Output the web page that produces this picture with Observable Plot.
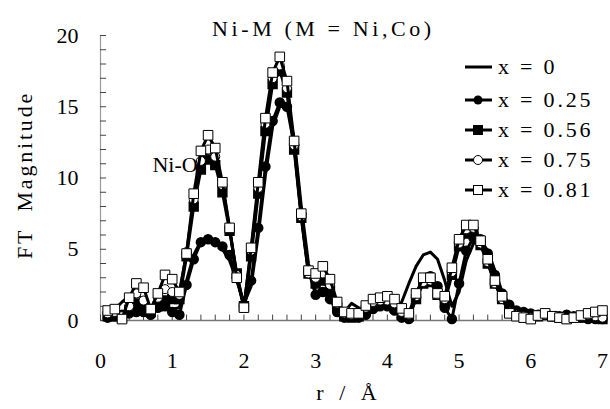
<!DOCTYPE html>
<html><head><meta charset="utf-8">
<script src="https://cdn.jsdelivr.net/npm/d3@7"></script>
<script src="https://cdn.jsdelivr.net/npm/@observablehq/plot@0.6"></script>
<style>
body{margin:0;background:#fff}
#chart{position:relative;width:610px;height:409px;color:#000}
#chart, #chart div, #chart span, #chart svg, #chart text{font-family:'Liberation Serif', serif !important}
.ov{position:absolute;white-space:pre;font-size:22px;line-height:1.2}
.lg{position:absolute;left:465px;display:flex;align-items:center;height:24px}
.lg span{font-size:22px;letter-spacing:2.8px;white-space:pre;margin-left:6px}
</style>
</head><body><div id="chart"></div>
<script>
const r = [0.1,0.2,0.3,0.4,0.5,0.6,0.7,0.8,0.9,1.0,1.1,1.2,1.3,1.4,1.5,1.6,1.7,1.8,1.9,2.0,
2.1,2.2,2.3,2.4,2.5,2.6,2.7,2.8,2.9,3.0,3.1,3.2,3.3,3.4,3.5,3.6,3.7,3.8,3.9,4.0,
4.1,4.2,4.3,4.4,4.5,4.6,4.7,4.8,4.9,5.0,5.1,5.2,5.3,5.4,5.5,5.6,5.7,5.8,5.9,6.0,
6.1,6.2,6.3,6.4,6.5,6.6,6.7,6.8,6.9,7.0];
const v0 = [0.4,0.8,1.3,1.7,1.4,0.8,0.5,0.8,1.0,0.8,0.9,2.8,4.6,5.6,5.8,5.5,5.0,4.2,2.8,1.2,
2.4,6.0,10.2,13.6,15.0,15.1,12.8,8.0,4.0,2.0,2.2,1.8,1.1,0.6,1.2,0.9,0.6,0.9,1.1,1.0,
0.8,1.3,2.6,3.8,4.6,4.8,4.3,2.8,1.0,2.0,4.2,5.4,5.6,4.9,3.5,2.0,1.1,0.8,0.7,0.6,
0.5,0.5,0.4,0.4,0.5,0.4,0.3,0.2,0.2,0.2];
const v025 = [0.2,0.3,0.4,0.5,0.6,0.6,0.4,0.9,1.0,0.6,0.4,2.5,4.3,5.5,5.7,5.5,5.2,4.6,3.0,1.0,
2.8,6.5,10.8,14.0,15.3,15.0,12.3,7.5,3.5,1.8,2.0,1.5,0.6,0.2,0.3,0.2,0.4,0.8,1.0,1.0,
0.7,0.2,0.1,1.6,2.8,3.1,2.4,0.9,0.1,2.6,4.9,5.8,5.7,4.7,3.2,1.9,1.1,0.7,0.6,0.5,
0.4,0.4,0.3,0.3,0.4,0.3,0.2,0.1,0.1,0.1];
const v056 = [0.3,0.3,0.2,0.7,1.2,1.0,0.6,1.0,1.4,1.5,1.5,4.5,8.0,10.6,11.3,10.9,9.0,6.3,3.3,1.0,
4.5,8.9,13.3,16.6,17.5,16.0,12.0,7.2,3.3,2.6,2.8,2.1,0.9,0.3,0.2,0.3,0.7,1.0,1.1,1.1,
0.9,0.4,0.3,1.5,2.6,2.7,1.8,1.3,3.2,5.2,6.1,6.2,5.3,4.0,2.6,1.5,0.7,0.5,0.4,0.3,
0.3,0.4,0.3,0.2,0.2,0.2,0.2,0.3,0.2,0.1];
const v075 = [0.5,0.6,0.3,1.0,1.9,1.4,0.8,1.6,2.2,2.0,1.8,4.8,8.5,11.2,12.0,11.5,9.5,6.5,3.2,1.0,
4.9,9.3,13.8,17.0,17.9,16.3,12.3,7.3,3.3,3.0,3.3,2.5,1.2,0.5,0.4,0.5,0.9,1.3,1.4,1.4,
1.2,0.6,0.4,1.7,2.7,2.8,1.8,1.5,3.4,5.4,6.4,6.5,5.4,4.1,2.6,1.5,0.6,0.4,0.3,0.2,
0.3,0.4,0.3,0.2,0.1,0.2,0.3,0.4,0.3,0.2];
const v081 = [0.7,0.8,0.1,1.6,2.6,2.3,0.8,1.9,3.2,2.9,2.0,4.7,8.9,11.9,13.0,12.1,9.7,6.5,3.0,0.9,
5.1,9.7,14.2,17.4,18.5,16.8,12.6,7.5,3.5,3.3,3.8,2.9,1.3,0.6,0.5,0.5,1.05,1.5,1.6,1.7,
1.5,0.85,0.5,1.9,3.0,3.0,1.9,1.7,3.7,5.7,6.7,6.7,5.6,4.3,2.8,1.7,0.5,0.3,0.2,0.1,
0.35,0.5,0.3,0.2,0.1,0.2,0.35,0.5,0.6,0.7];
const seriesNames = ["x = 0","x = 0.25","x = 0.56","x = 0.75","x = 0.81"];
const seriesValues = [v0,v025,v056,v075,v081];
const xTickLabels = [0,1,2,3,4,5,6,7];
const yTickLabels = [0,5,10,15,20];
const xMinor = d3.range(0,36).map(i=>i*0.2);
const yMinor = d3.range(0,21);
const titleText = "Ni-M (M = Ni,Co)";
const annotation = "Ni-O";

const rows = seriesValues.map(vals => r.map((x,i)=>({x, y: vals[i]})));
const font = "Liberation Serif";

const plot = Plot.plot({
  width: 610, height: 409,
  marginLeft: 100, marginRight: 8, marginTop: 35, marginBottom: 89,
  style: {background: "#fff", overflow: "visible"},
  x: {domain: [0,7], axis: null},
  y: {domain: [0,20], axis: null},
  marks: [
    Plot.ruleY([0], {stroke: "#777", strokeWidth: 1.5}),
    Plot.ruleX([0], {stroke: "#999", strokeWidth: 1.2}),
    Plot.ruleX(xMinor, {x: d=>d, y1: 0, y2: 0.38, stroke: "#444", strokeWidth: 1}),
    Plot.ruleY(yMinor, {y: d=>d, x1: 0, x2: 0.085, stroke: "#444", strokeWidth: 1}),
    Plot.text(xTickLabels, {x: d=>d, y: 0, dy: 40, text: d=>String(d), fontSize: 22, fill: "#000", fontFamily: font}),
    Plot.text(yTickLabels, {x: 0, y: d=>d, dx: -22, text: d=>String(d), textAnchor: "end", fontSize: 22, fill: "#000", fontFamily: font}),
    Plot.line(rows[0], {x: "x", y: "y", stroke: "#000", strokeWidth: 3}),
    Plot.line(rows[1], {x: "x", y: "y", stroke: "#000", strokeWidth: 3}),
    Plot.dot(rows[1], {x: "x", y: "y", r: 4.5, fill: "#000", stroke: "#000"}),
    Plot.line(rows[2], {x: "x", y: "y", stroke: "#000", strokeWidth: 3}),
    Plot.dot(rows[2], {x: "x", y: "y", r: 5, symbol: "square", fill: "#000", stroke: "#000"}),
    Plot.line(rows[3], {x: "x", y: "y", stroke: "#000", strokeWidth: 3}),
    Plot.dot(rows[3], {x: "x", y: "y", r: 4.5, fill: "#fff", stroke: "#000", strokeWidth: 1}),
    Plot.line(rows[4], {x: "x", y: "y", stroke: "#000", strokeWidth: 3}),
    Plot.dot(rows[4], {x: "x", y: "y", r: 5.4, symbol: "square", fill: "#fff", stroke: "#000", strokeWidth: 1}),
    Plot.text([annotation], {x: 1.04, y: 10.9, text: d=>d, fontSize: 22, fill: "#000", fontFamily: font, style: "letter-spacing:3px"})
  ]
});
const chart = document.getElementById("chart");
chart.appendChild(plot);

function ov(text, css){ const d=document.createElement("div"); d.className="ov"; d.textContent=text; d.style.cssText+=css; chart.appendChild(d); return d; }
ov(titleText, "left:212px;top:16px;letter-spacing:3.6px;");
ov("FT  Magnitude", "left:25px;top:175px;letter-spacing:2.8px;transform:translate(-50%,-50%) rotate(-90deg);");
ov("r / Å", "left:349px;top:393px;letter-spacing:5px;transform:translate(-50%,-50%);");

// legend
const legendTops = [55,88,118,148,178];
const markerSvg = [
  '',
  '<circle cx="13" cy="6" r="4.5" fill="#000"/>',
  '<rect x="8" y="1" width="10" height="10" fill="#000"/>',
  '<circle cx="13" cy="6" r="4.5" fill="#fff" stroke="#000"/>',
  '<rect x="8.5" y="1.5" width="9" height="9" fill="#fff" stroke="#000"/>'
];
seriesNames.forEach((name,i)=>{
  const row=document.createElement("div"); row.className="lg"; row.style.top=legendTops[i]+"px";
  row.innerHTML='<svg width="27" height="12"><line x1="0" y1="6" x2="27" y2="6" stroke="#000" stroke-width="3"/>'+markerSvg[i]+'</svg><span>'+name+'</span>';
  chart.appendChild(row);
});
</script>
</body></html>
